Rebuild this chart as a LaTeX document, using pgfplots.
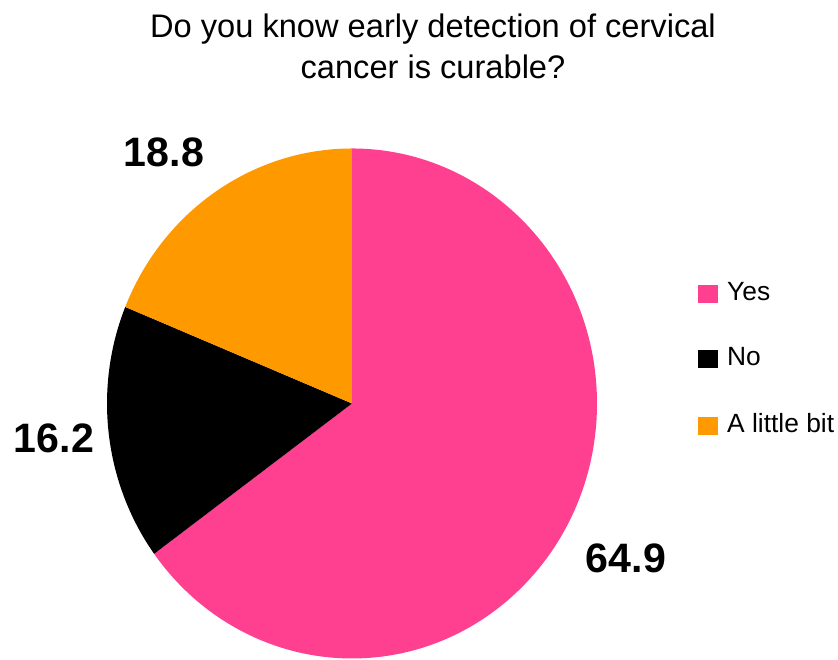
\documentclass[border=0pt]{standalone}
\usepackage{pgfplots}
\pgfplotsset{compat=1.18}
\usepackage{pgfplotstable}
\usepackage{fontspec}
\setmainfont{Liberation Sans}
\definecolor{yescol}{RGB}{255,64,145}
\definecolor{bitcol}{RGB}{255,153,0}

% shares in percent, clockwise from 12 o'clock
\pgfplotstableread{
answer value
Yes 64.9
No 16.2
Bit 18.8
}\piedata
\pgfplotstablegetelem{0}{value}\of\piedata \let\vA\pgfplotsretval
\pgfplotstablegetelem{1}{value}\of\piedata \let\vB\pgfplotsretval
\pgfplotstablegetelem{2}{value}\of\piedata \let\vC\pgfplotsretval
\pgfmathsetmacro\tot{\vA+\vB+\vC}
\pgfmathsetmacro\aA{90-360*(\vA/\tot)}
\pgfmathsetmacro\aB{\aA-360*(\vB/\tot)}
\pgfmathsetmacro\aC{\aB-360*(\vC/\tot)}

\begin{document}
\begin{tikzpicture}
\begin{axis}[
  scale only axis, width=8.38cm, height=6.6cm,
  xmin=0, xmax=838, ymin=0, ymax=660,
  hide axis, clip=false,
  legend style={at={(axis cs:697,382)}, anchor=north west, draw=none, fill=none,
    font=\fontsize{7.5}{9}\selectfont, row sep=10pt, inner sep=0pt,
    nodes={inner sep=1pt}},
  legend cell align=left,
  legend image code/.code={\fill[#1] (0cm,-0.09cm) rectangle (0.2cm,0.09cm);
    \path (0.26cm,0cm);},
]
\path (rel axis cs:0,0) rectangle (rel axis cs:1,1);
\addlegendimage{fill=yescol, draw=none}
\addlegendentry{Yes}
\addlegendimage{fill=black, draw=none}
\addlegendentry{No}
\addlegendimage{fill=bitcol, draw=none}
\addlegendentry{A little bit}

\fill[yescol] (axis cs:352,256.5) -- ++(90:2.45cm and 2.55cm)
  arc[start angle=90, end angle=\aA, x radius=2.45cm, y radius=2.55cm] -- cycle;
\fill[black] (axis cs:352,256.5) -- ++(\aA:2.45cm and 2.55cm)
  arc[start angle=\aA, end angle=\aB, x radius=2.45cm, y radius=2.55cm] -- cycle;
\fill[bitcol] (axis cs:352,256.5) -- ++(\aB:2.45cm and 2.55cm)
  arc[start angle=\aB, end angle=\aC, x radius=2.45cm, y radius=2.55cm] -- cycle;

\node[anchor=base, font=\fontsize{11.7}{14}\selectfont\bfseries] at (axis cs:164,493) {18.8};
\node[anchor=base, font=\fontsize{11.7}{14}\selectfont\bfseries] at (axis cs:54,207) {16.2};
\node[anchor=base, font=\fontsize{11.7}{14}\selectfont\bfseries] at (axis cs:626,87) {64.9};

\node[anchor=base, font=\fontsize{9.28}{11}\selectfont] at (axis cs:433,622) {Do you know early detection of cervical};
\node[anchor=base, font=\fontsize{9.28}{11}\selectfont] at (axis cs:433,581) {cancer is curable?};
\end{axis}
\end{tikzpicture}
\end{document}
